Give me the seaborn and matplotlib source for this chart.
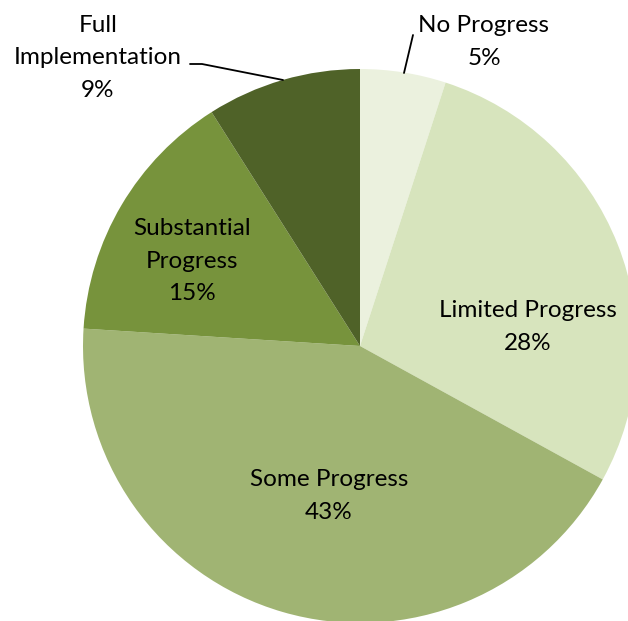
import matplotlib
matplotlib.use("Agg")
import matplotlib.pyplot as plt
import seaborn as sns

# chart data
categories = ["No Progress", "Limited Progress", "Some Progress",
              "Substantial Progress", "Full Implementation"]
shares = [5, 28, 43, 15, 9]
colors = ["#EBF1DE", "#D7E4BD", "#A0B473", "#77933C", "#4F6228"]

sns.set_theme(style="white")
plt.rcParams['font.family'] = ['Lato', 'DejaVu Sans']

W, H = 628, 621
fig = plt.figure(figsize=(W / 100, H / 100), dpi=100)
ax = fig.add_axes([0, 0, 1, 1])

cx, cy, r = 360, H - 346, 277
ax.pie(shares, colors=sns.color_palette(colors), startangle=90,
       counterclock=False, center=(cx, cy), radius=r,
       wedgeprops=dict(linewidth=0), frame=True)
ax.set_xlim(0, W)
ax.set_ylim(0, H)
ax.set_aspect('equal')
ax.axis('off')

fs = 17.5
def label(x, y, lines):
    ax.text(x, H - y, "\n".join(lines), ha='center', va='center',
            fontsize=fs, color='black', linespacing=1.65)

label(484, 42, ["No Progress", f"{shares[0]}%"])
label(528, 327, ["Limited Progress", f"{shares[1]}%"])
label(329, 496, ["Some Progress", f"{shares[2]}%"])
label(192, 261, ["Substantial", "Progress", f"{shares[3]}%"])
label(98, 58, ["Full", "Implementation", f"{shares[4]}%"])

# leader lines
ax.plot([413, 404], [H - 35, H - 73], color='black', lw=1.3)
ax.plot([190, 202, 283], [H - 64, H - 64, H - 80], color='black', lw=1.3)

fig.savefig("out.png", dpi=100)
